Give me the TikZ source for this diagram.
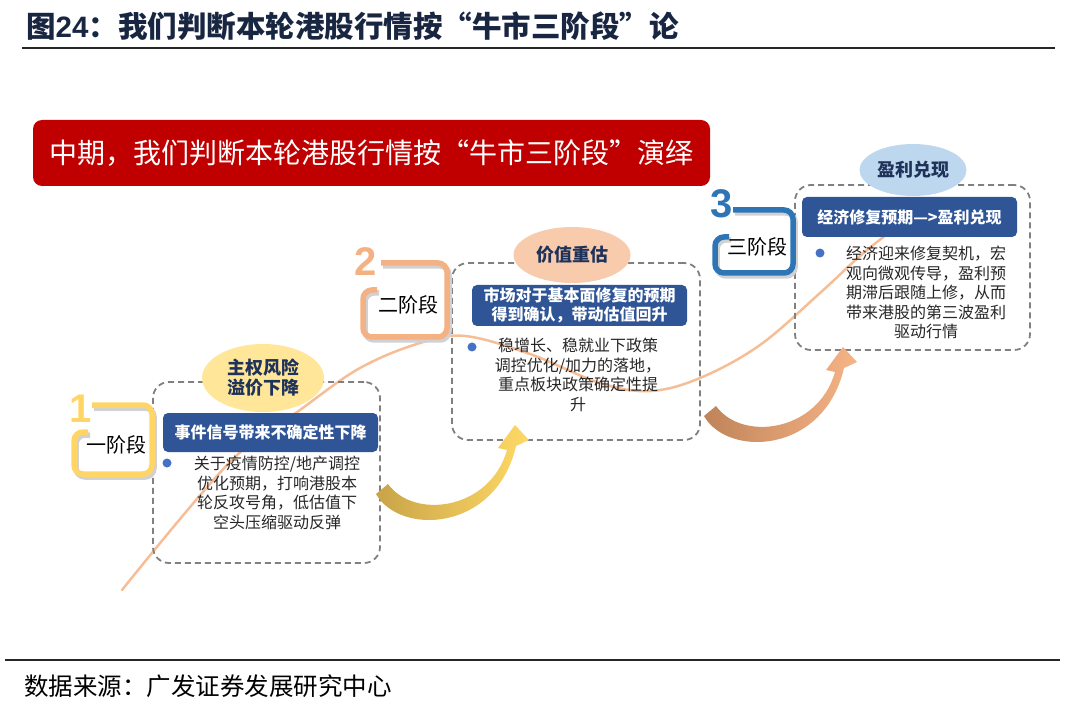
\documentclass[tikz,border=0pt]{standalone}
\usepackage{fontspec}
\setsansfont{Liberation Sans}
\newfontfamily\cjk{Noto Sans CJK SC}
\usepackage{tikz}
\usetikzlibrary{shapes.geometric, positioning, calc}
\usepackage{xcolor}
\definecolor{titlenavy}{RGB}{24, 38, 66}
\definecolor{bannerred}{RGB}{192, 0, 0}
\definecolor{headblue}{RGB}{47, 85, 151}
\definecolor{bulletblue}{RGB}{68, 114, 196}
\definecolor{framegray}{RGB}{128, 128, 128}
\definecolor{ellyellow}{RGB}{255, 230, 153}
\definecolor{ellpeach}{RGB}{248, 203, 173}
\definecolor{elllightblue}{RGB}{189, 215, 238}
\definecolor{elltext}{RGB}{31, 50, 90}
\definecolor{trendpeach}{RGB}{246, 190, 150}
\definecolor{tagyellow}{RGB}{255, 214, 102}
\definecolor{tagorange}{RGB}{244, 177, 131}
\definecolor{tagblue}{RGB}{46, 117, 182}
\definecolor{goldA}{RGB}{201, 164, 72}
\definecolor{goldB}{RGB}{255, 217, 102}
\definecolor{peachA}{RGB}{192, 132, 90}
\definecolor{peachB}{RGB}{246, 180, 134}
\definecolor{bodygray}{RGB}{38, 38, 38}
\tikzset{
  rulestyle/.style   = {line width=2pt, black!85},
  stagebox/.style    = {rectangle, draw=framegray, line width=1.8pt, dash pattern=on 6pt off 4pt, rounded corners=16pt, inner sep=0pt},
  headbox/.style     = {rectangle, rounded corners=5pt, fill=headblue, text=white, align=center, inner sep=0pt, font=\cjk\bfseries\fontsize{16}{19}\selectfont},
  tagell/.style      = {ellipse, inner sep=0pt, align=center, text=elltext, font=\cjk\bfseries\fontsize{18}{20}\selectfont},
  bodytext/.style    = {anchor=north, align=center, inner sep=0pt, text=bodygray, font=\cjk\fontsize{16}{19.5}\selectfont},
  bulletdot/.style   = {circle, fill=bulletblue, minimum size=9pt, inner sep=0pt},
  trendline/.style   = {trendpeach, line width=2.5pt, line cap=round},
  tagframe/.style    = {line width=5.5pt, rounded corners=9pt},
  tagshadow/.style   = {line width=5.5pt, rounded corners=9pt, black!18},
  tagnum/.style      = {inner sep=0pt, font=\sffamily\bfseries\fontsize{40}{40}\selectfont},
  taglabel/.style    = {inner sep=0pt, text=black, font=\cjk\fontsize{20}{20}\selectfont},
}

\begin{document}
\begin{tikzpicture}[x=1pt, y=-1pt]
  % 画布 1080 x 714
  \useasboundingbox (0,0) rectangle (1080,714);

  % 标题与来源
  \node[anchor=west, inner sep=0pt, text=titlenavy, font=\cjk\bfseries\fontsize{29.5}{29.5}\selectfont] (title) at (26,26) {图{\sffamily 24}：我们判断本轮港股行情按“牛市三阶段”论};
  \draw[rulestyle] (22,48) -- (1055,48);
  \draw[rulestyle] (5,660) -- (1060,660);
  \node[anchor=west, inner sep=0pt, text=black, font=\cjk\fontsize{24.5}{24.5}\selectfont] (source) at (24,686) {数据来源：广发证券发展研究中心};

  % 红色横幅
  \node[rectangle, rounded corners=9pt, fill=bannerred, minimum width=677pt, minimum height=66pt, text=white, font=\cjk\fontsize{28}{28}\selectfont] (banner) at (371.5,153) {中期，我们判断本轮港股行情按“牛市三阶段”演绎};

  % 趋势曲线
  \draw[trendline] plot[smooth, tension=0.6] coordinates {(122,590) (230,462) (300,410) (360,368) (420,343) (465,336) (530,354) (600,383) (650,391) (700,378) (760,345) (820,293) (860,256) (895,228)};

  % 三个阶段的虚线框
  \node[stagebox, minimum width=227pt, minimum height=181pt] (box1) at (266.5,472.5) {};
  \node[stagebox, minimum width=248pt, minimum height=177pt] (box2) at (576,351.5) {};
  \node[stagebox, minimum width=235pt, minimum height=165pt] (box3) at (912.5,267.5) {};

  % 蓝色标题条
  \node[headbox, minimum width=215pt, minimum height=39pt] (head1) at (270.5,432.5) {事件信号带来不确定性下降};
  \node[headbox, minimum width=215pt, minimum height=41pt] (head2) at (579.5,305.5) {市场对于基本面修复的预期\\得到确认，带动估值回升};
  \node[headbox, minimum width=215pt, minimum height=40pt] (head3) at (909.5,217) {经济修复预期—>盈利兑现};

  % 椭圆标签
  \node[tagell, fill=ellyellow, minimum width=122pt, minimum height=68pt] (ell1) at (263,378) {主权风险\\溢价下降};
  \node[tagell, fill=ellpeach, minimum width=117pt, minimum height=56pt] (ell2) at (572,255) {价值重估};
  \node[tagell, fill=elllightblue, minimum width=107pt, minimum height=52pt] (ell3) at (913,170) {盈利兑现};

  % 要点
  \node[bulletdot] (dot1) at (167,463) {};
  \node[bulletdot] (dot2) at (472,347) {};
  \node[bulletdot] (dot3) at (820,253) {};
  \node[bodytext] (body1) at (277,456) {关于疫情防控/地产调控\\优化预期，打响港股本\\轮反攻号角，低估值下\\空头压缩驱动反弹};
  \node[bodytext] (body2) at (578,338) {稳增长、稳就业下政策\\调控优化/加力的落地，\\重点板块政策确定性提\\升};
  \node[bodytext] (body3) at (926,246) {经济迎来修复契机，宏\\观向微观传导，盈利预\\期滞后跟随上修，从而\\带来港股的第三波盈利\\驱动行情};

  % 阶段编号框
  \foreach \bx/\by/\bw/\bh/\bc/\bn/\nx/\ny/\bt in {74/405/78/69/tagyellow/1/81/409/一阶段, 363/263/84/74/tagorange/2/366/262/二阶段, 715/210/78/63/tagblue/3/722/204/三阶段}{
    \draw[tagshadow, shift={(\bx+2,\by+3)}] (18,0) -- (\bw,0) -- (\bw,\bh) -- (0,\bh) -- (0,27) -- (14,27);
    \draw[tagframe, \bc, shift={(\bx,\by)}] (18,0) -- (\bw,0) -- (\bw,\bh) -- (0,\bh) -- (0,27) -- (14,27);
    \node[tagnum, text=\bc] (num\bn) at (\nx,\ny) {\bn};
    \node[taglabel] (stage\bn) at (\bx+\bw/2+3,\by+\bh/2+5) {\bt};
  }

  % 弯曲箭头
  \foreach \sx/\sy/\ca/\cb in {0/0/goldA/goldB, 328/-78/peachA/peachB}{
    \shade[left color=\ca, right color=\cb, shift={(\sx,\sy)}] (376,494) .. controls (400,536) and (496,532) .. (516,446) -- (529,440) -- (515,425) -- (498,448) -- (507,450) .. controls (490,510) and (414,520) .. (388,484) -- cycle;
  }
\end{tikzpicture}
\end{document}
